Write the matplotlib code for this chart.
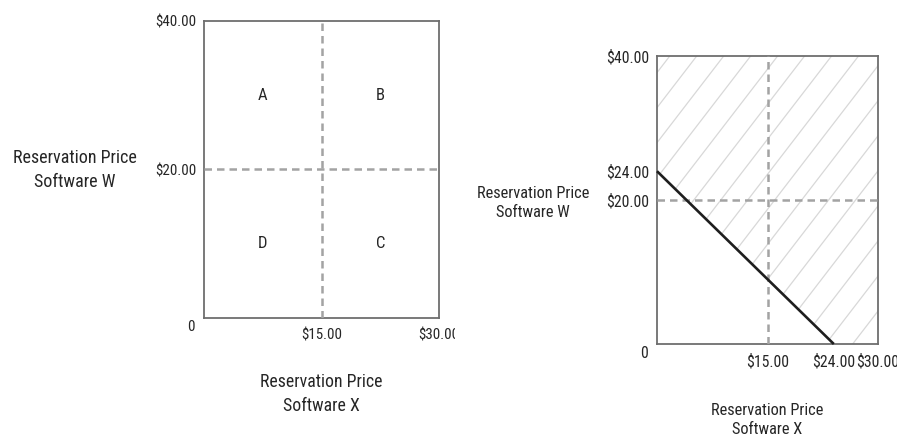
import numpy as np
import matplotlib.pyplot as plt
from matplotlib.patches import Polygon
from matplotlib.transforms import Bbox, TransformedBbox
import matplotlib.font_manager as fm

# prefer a narrow sans; take the first one installed
installed = {f.name for f in fm.fontManager.ttflist}
choices = ['Roboto Condensed', 'Liberation Sans Narrow', 'Liberation Sans']
family = next(c for c in choices if c in installed)
plt.rcParams['font.family'] = [family, 'DejaVu Sans']

# reservation prices, dollars
x_max = 30
y_max = 40
split_x = 15
split_y = 20
bundle_price = 24

left_xticks = [15, 30]
left_xlabels = ['$15.00', '$30.00']
left_yticks = [20, 40]
left_ylabels = ['$20.00', '$40.00']

right_xticks = [15, 24, 30]
right_xlabels = ['$15.00', '$24.00', '$30.00']
right_yticks = [20, 24, 40]
right_ylabels = ['$20.00', '$24.00', '$40.00']

quad_names = ['A', 'B', 'D', 'C']
quad_x = [7.5, 22.5, 7.5, 22.5]
quad_y = [30, 30, 10, 10]

TXT = '#262626'
W, H = 897, 440

fig = plt.figure(figsize=(W / 100, H / 100), dpi=100)


def px_axes(x0, y0, x1, y1):
    # axes placed by pixel box (left, top, right, bottom)
    return fig.add_axes([x0 / W, 1 - y1 / H, (x1 - x0) / W, (y1 - y0) / H])


def px_text(x, y, s, fs):
    fig.text(x / W, 1 - y / H, s, ha='center', va='center', fontsize=fs,
             color=TXT, linespacing=1.4)


def style_axes(ax, xticks, xlabels, yticks, ylabels, fs):
    ax.set_xlim(0, x_max)
    ax.set_ylim(0, y_max)
    for s in ax.spines.values():
        s.set_color('#6e6e6e')
        s.set_linewidth(1.3)
    ax.set_xticks(xticks, xlabels)
    ax.set_yticks(yticks, ylabels)
    ax.tick_params(length=0, labelsize=fs, labelcolor=TXT)
    ax.tick_params(axis='x', pad=7.5)
    ax.tick_params(axis='y', pad=5.5)
    dash = dict(color='#a3a3a3', lw=1.8, ls=(0, (3, 2)), zorder=3)
    ax.axvline(split_x, **dash)
    ax.axhline(split_y, **dash)
    ax.annotate('0', xy=(0, 0), xytext=(-9.5, -6.5), textcoords='offset points',
                ha='center', va='center', fontsize=fs, color=TXT,
                annotation_clip=False)


# left: four quadrants of buyers
ax1 = px_axes(204, 21, 439, 318)
style_axes(ax1, left_xticks, left_xlabels, left_yticks, left_ylabels, 10.8)
for name, qx, qy in zip(quad_names, quad_x, quad_y):
    ax1.text(qx, qy, name, ha='center', va='center', fontsize=12, color=TXT)
# the last x label is cut off at the panel edge
cut = TransformedBbox(Bbox.from_extents(0, 0, 455 / W, 1), fig.transFigure)
lab = ax1.get_xticklabels()[-1]
lab.set_clip_box(cut)
lab.set_clip_on(True)

px_text(75, 170, 'Reservation Price\nSoftware W', 13)
px_text(321, 394, 'Reservation Price\nSoftware X', 12.8)

# right: bundle priced at $24, buyers above the line purchase
ax2 = px_axes(657, 56, 878, 344)
style_axes(ax2, right_xticks, right_xlabels, right_yticks, right_ylabels, 11.3)
region = Polygon([(0, bundle_price), (bundle_price, 0), (x_max, 0),
                  (x_max, y_max), (0, y_max)], closed=True,
                 facecolor='none', edgecolor='none', transform=ax2.transData)
ax2.add_patch(region)
slope = 1.33
for c in np.arange(-32, 32, 3.66):
    ln, = ax2.plot([c, c + 45 / slope], [0, 45], color='#d8d8d8', lw=0.9, zorder=1)
    ln.set_clip_path(region)
ax2.plot([0, bundle_price], [bundle_price, 0], color='#1e1e1e', lw=1.9,
         zorder=4, clip_on=False, solid_capstyle='butt')

px_text(533, 203, 'Reservation Price\nSoftware W', 11.8)
px_text(767, 420, 'Reservation Price\nSoftware X', 11.8)

fig.savefig('out.png', dpi=100)
